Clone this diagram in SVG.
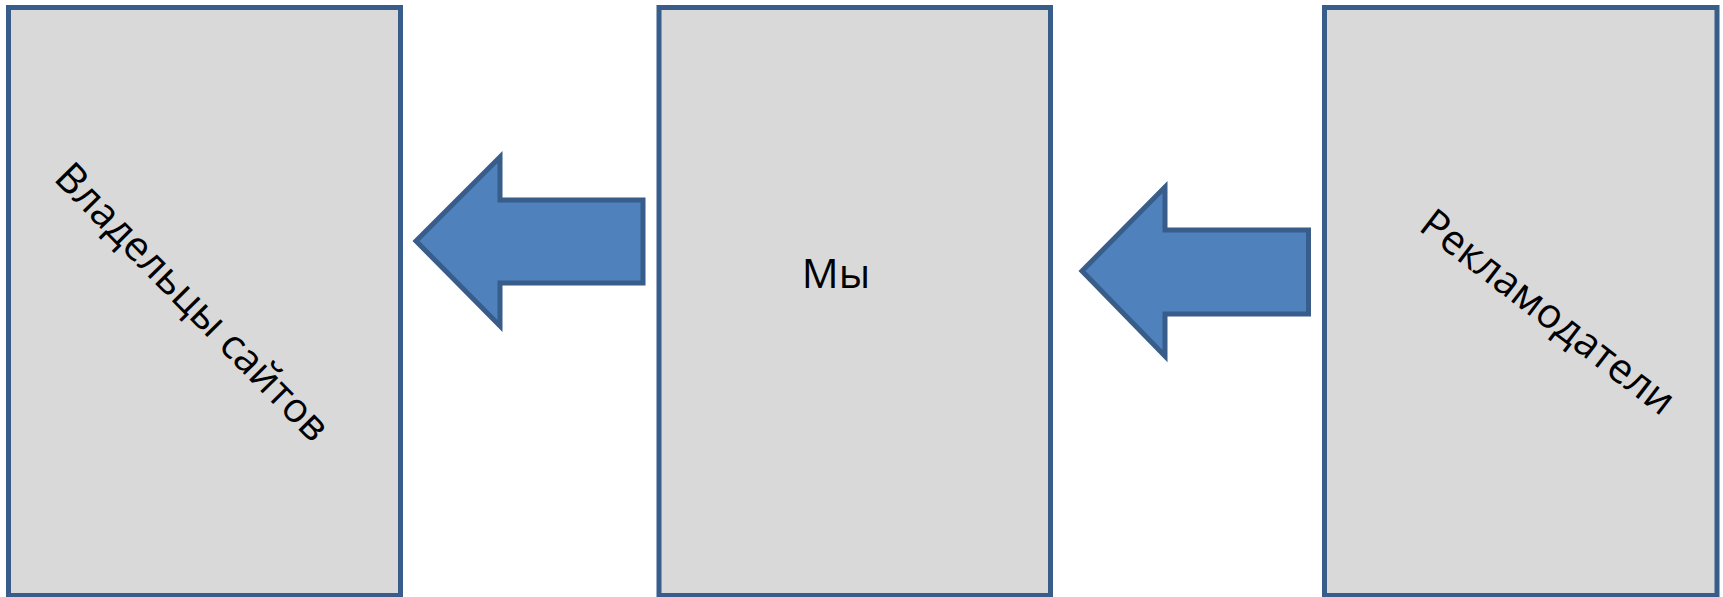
<svg xmlns="http://www.w3.org/2000/svg" width="1723" height="597" viewBox="0 0 1723 597">
<style>
.box{fill:#d9d9d9;stroke:#385d8a;stroke-width:5}
.arr{fill:#4f81bd;stroke:#385d8a;stroke-width:5;stroke-linejoin:miter}
.lbl{font-family:"Open Sans","Noto Sans","DejaVu Sans",sans-serif;font-size:41px;fill:#000}
</style>
<rect width="1723" height="597" fill="#ffffff"/>
<g id="node-owners">
<rect class="box" x="8.5" y="7.5" width="392" height="588"/>
<text class="lbl" text-anchor="middle" transform="translate(192.5,302) rotate(45.5)" x="0" y="14">Владельцы сайтов</text>
</g>
<g id="node-us">
<rect class="box" x="659" y="7.5" width="391.5" height="588"/>
<text class="lbl" text-anchor="middle" x="836" y="288">Мы</text>
</g>
<g id="node-advertisers">
<rect class="box" x="1324.5" y="7.5" width="392.5" height="588"/>
<text class="lbl" text-anchor="middle" transform="translate(1548,312) rotate(37.5)" x="0" y="14">Рекламодатели</text>
</g>
<g id="connectors">
<polygon class="arr" points="416,241 500,157 500,200 643,200 643,283 500,283 500,326"/>
<polygon class="arr" points="1082,271 1165,187 1165,230 1308.5,230 1308.5,314 1165,314 1165,356"/>
</g>
</svg>
